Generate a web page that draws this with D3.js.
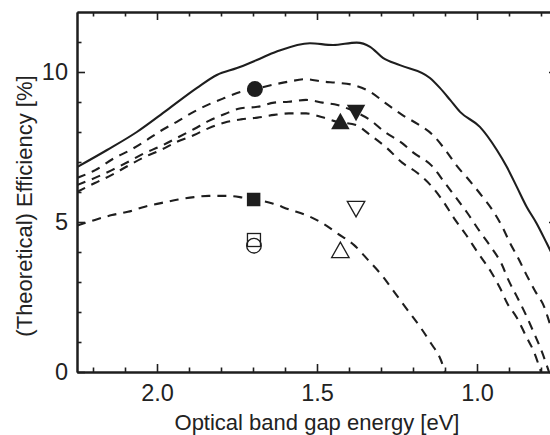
<!DOCTYPE html>
<html>
<head>
<meta charset="utf-8">
<script src="https://cdn.jsdelivr.net/npm/d3@7"></script>
<style>
  html, body { margin: 0; padding: 0; background: #fff; }
  svg { display: block; }
  text { font-family: "Liberation Sans", Arial, sans-serif; fill: #222; }
</style>
</head>
<body>
<svg id="chart" width="550" height="435"></svg>
<script>
// ---------- data ----------
const xMajorTicks = [2.0, 1.5, 1.0];
const yMajorTicks = [0, 5, 10];
const xLabel = "Optical band gap energy [eV]";
const yLabel = "(Theoretical) Efficiency [%]";

// solid curve (theoretical limit)
const solidE = [2.25, 2.156, 2.063, 1.969, 1.875, 1.813, 1.75, 1.688, 1.626, 1.522, 1.45, 1.376, 1.334, 1.294, 1.241, 1.147, 1.116, 1.084, 1.053, 0.991, 0.938, 0.907, 0.876, 0.845, 0.814, 0.782, 0.75];
const solidV = [6.83, 7.40, 8.0, 8.73, 9.47, 9.9, 10.13, 10.4, 10.68, 10.96, 10.9, 10.98, 10.84, 10.47, 10.23, 9.8, 9.47, 9.07, 8.67, 8.17, 7.4, 6.84, 6.18, 5.51, 4.96, 4.29, 3.6];

// dashed curve 1 (top)
const dash1E = [2.25, 2.193, 2.135, 2.083, 2.038, 1.991, 1.938, 1.884, 1.838, 1.79, 1.74, 1.694, 1.631, 1.588, 1.534, 1.483, 1.436, 1.388, 1.334, 1.288, 1.234, 1.186, 1.138, 1.094, 1.063, 1.025, 0.985, 0.952, 0.92, 0.897, 0.871, 0.845, 0.819, 0.79, 0.772, 0.75];
const dash1V = [6.47, 6.73, 7.12, 7.4, 7.69, 8.02, 8.34, 8.68, 8.92, 9.13, 9.33, 9.43, 9.59, 9.68, 9.76, 9.68, 9.64, 9.57, 9.34, 8.98, 8.57, 8.27, 7.9, 7.33, 6.87, 6.4, 5.87, 5.4, 4.82, 4.3, 3.79, 3.23, 2.71, 2.17, 1.6, 0.9];

// dashed curve 2
const dash2E = [2.25, 2.194, 2.141, 2.091, 2.038, 1.988, 1.938, 1.884, 1.838, 1.788, 1.738, 1.686, 1.634, 1.588, 1.534, 1.483, 1.436, 1.381, 1.334, 1.288, 1.234, 1.2, 1.141, 1.103, 1.066, 1.03, 0.991, 0.954, 0.923, 0.902, 0.876, 0.847, 0.822, 0.797, 0.775];
const dash2V = [6.23, 6.47, 6.73, 7.0, 7.3, 7.53, 7.8, 8.1, 8.37, 8.6, 8.79, 8.84, 8.98, 9.01, 9.07, 8.98, 8.9, 8.67, 8.4, 8.0, 7.63, 7.32, 6.87, 6.34, 5.82, 5.3, 4.68, 4.13, 3.6, 3.07, 2.53, 1.9, 1.3, 0.67, 0.0];

// dashed curve 3
const dash3E = [2.25, 2.194, 2.141, 2.091, 2.038, 1.988, 1.938, 1.884, 1.838, 1.788, 1.738, 1.686, 1.634, 1.588, 1.534, 1.483, 1.438, 1.378, 1.334, 1.282, 1.234, 1.188, 1.141, 1.105, 1.072, 1.036, 0.997, 0.954, 0.928, 0.906, 0.875, 0.847, 0.822, 0.8];
const dash3V = [6.0, 6.3, 6.57, 6.87, 7.17, 7.4, 7.67, 7.9, 8.13, 8.32, 8.42, 8.48, 8.57, 8.62, 8.62, 8.49, 8.34, 8.23, 7.9, 7.47, 6.98, 6.65, 6.18, 5.68, 5.13, 4.6, 3.97, 3.3, 2.8, 2.3, 1.8, 1.2, 0.67, 0.0];

// dashed curve 4 (bottom)
const dash4E = [2.25, 2.194, 2.141, 2.091, 2.038, 1.988, 1.934, 1.884, 1.838, 1.784, 1.741, 1.698, 1.639, 1.588, 1.534, 1.483, 1.436, 1.384, 1.34, 1.298, 1.256, 1.213, 1.175, 1.144, 1.113, 1.1];
const dash4V = [4.88, 5.07, 5.23, 5.34, 5.51, 5.63, 5.75, 5.83, 5.87, 5.87, 5.83, 5.75, 5.62, 5.42, 5.23, 4.96, 4.62, 4.23, 3.73, 3.23, 2.63, 2.01, 1.46, 0.96, 0.4, 0.0];

// measured points
const markerNames  = ["filledCircle", "filledSquare", "filledTriUp", "filledTriDown", "openSquare", "openCircle", "openTriUp", "openTriDown"];
const markerE      = [1.694, 1.698, 1.427, 1.378, 1.697, 1.697, 1.427, 1.378];
const markerV      = [9.43, 5.75, 8.37, 8.63, 4.40, 4.21, 4.07, 5.43];

// ---------- drawing ----------
(function () {
const W = 550, H = 435;
const mLeft = 77, mRight = 557, mTop = 12, mBottom = 372;
const ink = "#1e1e1e";

const x = d3.scaleLinear().domain([2.25, 0.75]).range([mLeft, mRight]);
const y = d3.scaleLinear().domain([0, 12]).range([mBottom, mTop]);

const svg = d3.select("#chart");
svg.append("rect").attr("width", W).attr("height", H).attr("fill", "#fff");

svg.append("defs").append("clipPath").attr("id", "plotclip")
  .append("rect").attr("x", mLeft).attr("y", mTop).attr("width", mRight - mLeft).attr("height", mBottom - mTop);

const plot = svg.append("g").attr("clip-path", "url(#plotclip)");

const line = d3.line().x(d => x(d[0])).y(d => y(d[1])).curve(d3.curveMonotoneX);
const zip = (E, V) => E.map((e, i) => [e, V[i]]);

const series = [
  { E: solidE, V: solidV, dash: null },
  { E: dash1E, V: dash1V, dash: "9,7" },
  { E: dash2E, V: dash2V, dash: "9,7" },
  { E: dash3E, V: dash3V, dash: "9,7" },
  { E: dash4E, V: dash4V, dash: "9,7" }
];
series.forEach(s => {
  plot.append("path")
    .attr("d", line(zip(s.E, s.V)))
    .attr("fill", "none")
    .attr("stroke", ink)
    .attr("stroke-width", 2.1)
    .attr("stroke-dasharray", s.dash);
});

function triPath(cx, cy, w, h, up) {
  const p = up
    ? [[cx, cy - h / 2], [cx + w / 2, cy + h / 2], [cx - w / 2, cy + h / 2]]
    : [[cx - w / 2, cy - h / 2], [cx + w / 2, cy - h / 2], [cx, cy + h / 2]];
  return "M" + p.map(q => q.join(",")).join("L") + "Z";
}
const mk = svg.append("g");
markerNames.forEach((name, i) => {
  const cx = x(markerE[i]), cy = y(markerV[i]);
  const filled = name.startsWith("filled");
  const fill = filled ? ink : "none";
  const sw = filled ? 0 : 1.3;
  let el;
  if (name.endsWith("Circle")) {
    el = mk.append("circle").attr("cx", cx).attr("cy", cy).attr("r", filled ? 8 : 7.3);
  } else if (name.endsWith("Square")) {
    const s = filled ? 13.5 : 13;
    el = mk.append("rect").attr("x", cx - s / 2).attr("y", cy - s / 2).attr("width", s).attr("height", s);
  } else {
    const up = name.endsWith("Up");
    el = mk.append("path").attr("d", triPath(cx, cy, filled ? 18.5 : 17.5, filled ? 16.5 : 15.5, up));
  }
  el.attr("fill", fill).attr("stroke", ink).attr("stroke-width", sw);
});

const xMinor = d3.range(8, 23).map(v => v / 10).filter(v => !xMajorTicks.some(m => Math.abs(m - v) < 1e-6));
const yMinor = d3.range(1, 12).filter(v => !yMajorTicks.includes(v));
const fmtX = d3.format(".1f");

function styleAxis(g) {
  g.selectAll("path.domain").attr("stroke", ink).attr("stroke-width", 2);
  g.selectAll(".tick line").attr("stroke", ink).attr("stroke-width", 1.6);
  g.selectAll("text").attr("font-family", "Liberation Sans, Arial, sans-serif").attr("fill", ink);
}

svg.append("g").attr("transform", `translate(0,${mBottom})`)
  .call(d3.axisBottom(x).tickValues(xMinor).tickSize(-4.5).tickSizeOuter(0).tickFormat(""))
  .call(styleAxis);
svg.append("g").attr("transform", `translate(0,${mBottom})`)
  .call(d3.axisBottom(x).tickValues(xMajorTicks).tickSize(-8).tickSizeOuter(0).tickPadding(12).tickFormat(fmtX))
  .call(styleAxis)
  .call(g => g.selectAll("text").attr("font-size", 23.5));
svg.append("g").attr("transform", `translate(0,${mTop})`)
  .call(d3.axisTop(x).tickValues(xMinor).tickSize(-4.5).tickSizeOuter(0).tickFormat(""))
  .call(styleAxis);
svg.append("g").attr("transform", `translate(0,${mTop})`)
  .call(d3.axisTop(x).tickValues(xMajorTicks).tickSize(-8).tickSizeOuter(0).tickFormat(""))
  .call(styleAxis);
svg.append("g").attr("transform", `translate(${mLeft},0)`)
  .call(d3.axisLeft(y).tickValues(yMinor).tickSize(-4.5).tickSizeOuter(0).tickFormat(""))
  .call(styleAxis);
svg.append("g").attr("transform", `translate(${mLeft},0)`)
  .call(d3.axisLeft(y).tickValues(yMajorTicks).tickSize(-8).tickSizeOuter(0).tickPadding(9).tickFormat(d3.format("d")))
  .call(styleAxis)
  .call(g => g.selectAll("text").attr("font-size", 23.5));
svg.append("g").attr("transform", `translate(${mRight},0)`)
  .call(d3.axisRight(y).tickValues(yMinor).tickSize(-4.5).tickSizeOuter(0).tickFormat(""))
  .call(styleAxis);
svg.append("g").attr("transform", `translate(${mRight},0)`)
  .call(d3.axisRight(y).tickValues(yMajorTicks).tickSize(-8).tickSizeOuter(0).tickFormat(""))
  .call(styleAxis);

svg.append("text")
  .attr("x", (mLeft + mRight) / 2).attr("y", 430)
  .attr("text-anchor", "middle").attr("font-size", 22)
  .text(xLabel);
svg.append("text")
  .attr("transform", "translate(32,206) rotate(-90)")
  .attr("text-anchor", "middle").attr("font-size", 22)
  .text(yLabel);
})();
</script>
</body>
</html>
